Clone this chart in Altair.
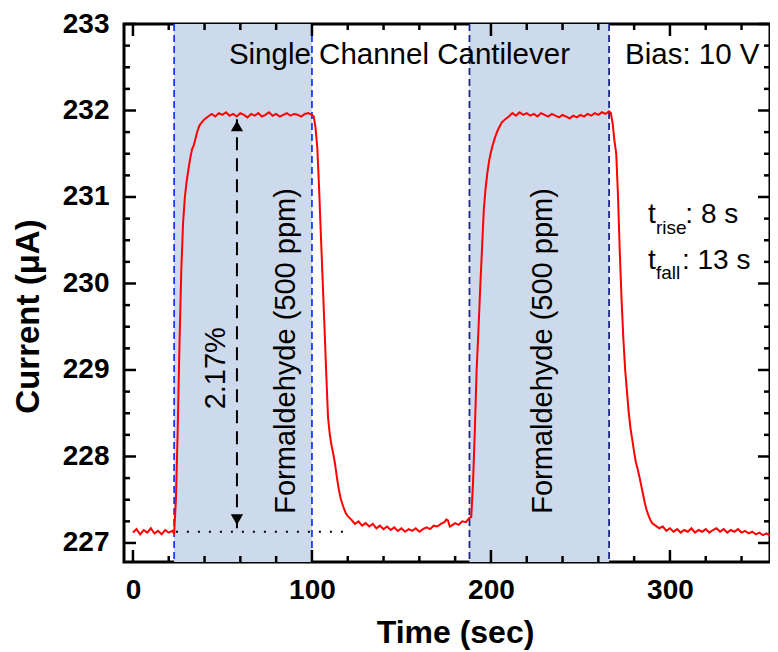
import altair as alt
import pandas as pd

# ---------------- data ----------------
time_s = [0, 2, 4, 6, 8, 10, 12, 14, 16, 18, 20, 22, 23,
          24, 25, 26, 27, 28, 29, 30, 31, 32, 33, 34, 35, 36, 37, 38, 40, 42,
          44, 46, 48, 50, 52, 54, 56, 58, 60, 62, 64, 66, 68, 70, 72, 74, 76, 78, 80,
          82, 84, 86, 88, 90, 92, 94, 96, 98, 100, 101,
          102, 103, 104, 105, 106, 107, 108, 109, 110, 111, 112, 113, 114, 115, 116,
          117, 118, 119, 120,
          122, 124, 126, 128, 130, 132, 134, 136, 138, 140, 142, 144, 146, 148, 150,
          152, 154, 156, 158, 160, 162, 164, 166, 168, 170, 172, 174, 175, 176, 177,
          178, 180, 182, 184, 186, 188, 189,
          190, 191, 192, 193, 194, 195, 196, 197, 198, 199, 200, 201, 202, 203, 204,
          205, 206, 208, 210,
          212, 214, 216, 218, 220, 222, 224, 226, 228, 230, 232, 234, 236, 238, 240,
          242, 244, 246, 248, 250, 252, 254, 256, 258, 260, 262, 264, 266, 267,
          268, 269, 270, 271, 272, 273, 274, 275, 276, 277, 278, 279, 280, 281, 282,
          283, 284, 285, 286, 287, 288, 289, 290, 292, 294, 296, 298,
          300, 302, 304, 306, 308, 310, 312, 314, 316, 318, 320, 322, 324, 326, 328,
          330, 332, 334, 336, 338, 340, 342, 344, 346, 348, 350, 352, 354, 356]

current_uA = [227.12, 227.16, 227.10, 227.15, 227.12, 227.17, 227.11, 227.14, 227.10, 227.15, 227.12, 227.14, 227.11,
              227.50, 228.30, 229.30, 230.15, 230.70, 231.00, 231.18, 231.32, 231.45, 231.55, 231.60, 231.68, 231.76, 231.82, 231.85, 231.90, 231.93,
              231.96, 231.93, 231.97, 231.95, 231.98, 231.94, 231.96, 231.93, 231.97, 231.95, 231.92, 231.96, 231.94, 231.97, 231.93, 231.95, 231.98, 231.94, 231.96,
              231.93, 231.95, 231.97, 231.94, 231.96, 231.95, 231.93, 231.96, 231.97, 231.95, 231.93,
              231.80, 231.57, 231.10, 230.55, 230.03, 229.50, 228.95, 228.45, 228.25, 228.12, 228.02, 227.90, 227.75, 227.62, 227.52,
              227.45, 227.39, 227.34, 227.31,
              227.27, 227.22, 227.25, 227.20, 227.23, 227.19, 227.22, 227.17, 227.20, 227.16, 227.19, 227.15, 227.18, 227.14, 227.17,
              227.13, 227.16, 227.14, 227.17, 227.13, 227.16, 227.18, 227.16, 227.20, 227.19, 227.22, 227.24, 227.27, 227.26, 227.19,
              227.20, 227.23, 227.21, 227.25, 227.24, 227.29, 227.30,
              227.70, 228.30, 229.00, 229.45, 229.95, 230.40, 230.85, 231.10, 231.28, 231.42, 231.52, 231.60, 231.67, 231.73, 231.78,
              231.82, 231.86, 231.90, 231.93,
              231.97, 231.94, 231.98, 231.95, 231.97, 231.94, 231.96, 231.93, 231.97, 231.95, 231.93, 231.96, 231.94, 231.92, 231.95,
              231.93, 231.91, 231.94, 231.92, 231.95, 231.93, 231.96, 231.94, 231.97, 231.95, 231.98, 231.96, 231.99, 231.97,
              231.85, 231.65, 231.50, 231.00, 230.35, 229.80, 229.35, 229.00, 228.75, 228.50, 228.32, 228.19, 228.05, 227.93, 227.85,
              227.76, 227.66, 227.56, 227.46, 227.38, 227.32, 227.27, 227.23, 227.20, 227.17, 227.19, 227.14,
              227.17, 227.13, 227.16, 227.12, 227.15, 227.13, 227.17, 227.12, 227.15, 227.13, 227.16, 227.12, 227.15, 227.17, 227.13,
              227.16, 227.12, 227.15, 227.13, 227.16, 227.12, 227.14, 227.11, 227.13, 227.10, 227.12, 227.09, 227.11, 227.08]

gas_on = [23, 188]
gas_off = [100, 266]
marker_times = [23, 100, 188, 266]
marker_colors = ["#1a3cff", "#1a3cff", "#1c2a86", "#1c2a86"]

x_major = [0, 100, 200, 300]
x_minor = [20, 40, 60, 80, 120, 140, 160, 180, 220, 240, 260, 280, 320, 340]
y_major = [227, 228, 229, 230, 231, 232, 233]
y_minor = [227.25, 227.5, 227.75, 228.25, 228.5, 228.75, 229.25, 229.5, 229.75,
           230.25, 230.5, 230.75, 231.25, 231.5, 231.75, 232.25, 232.5, 232.75]

baseline_level = 227.13
baseline_span = [24, 119]
arrow_time = 58.1
arrow_span = [227.17, 231.9]
arrow_heads_y = [231.82, 227.27]
arrow_heads_shape = ["triangle-up", "triangle-down"]

gas_label = ["Formaldehyde (500 ppm)", "Formaldehyde (500 ppm)"]
gas_label_x = [85.5, 229.0]
gas_label_y = [229.22, 229.22]

top_text = ["Single Channel Cantilever", "Bias: 10 V"]
top_text_x = [53.6, 274.9]
top_text_y = [232.54, 232.54]

t_main = ["t", ": 8 s", "t", ": 13 s"]
t_main_x = [287.7, 308.6, 287.7, 306.7]
t_main_y = [230.70, 230.70, 230.17, 230.17]
t_sub = ["rise", "fall"]
t_sub_x = [292.2, 292.2]
t_sub_y = [230.57, 230.05]

pct_text = ["2.17%"]
pct_x = [46.6]
pct_y = [229.02]

# ---------------- layout ----------------
W, H = 646, 538
XDOM = [-5, 355.9]
YDOM = [226.78, 233]
FONT = "Liberation Sans"
MAJ, MIN = 12, 6

xs = alt.Scale(domain=XDOM, nice=False, zero=False)
ys = alt.Scale(domain=YDOM, nice=False, zero=False)

curve_df = pd.DataFrame({"x": time_s, "y": current_uA})

X = alt.X("x:Q", scale=xs,
          axis=alt.Axis(values=x_major, title="Time (sec)", titleX=331, titleY=80,
                        titleBaseline="alphabetic", labelPadding=14, format="d"))
Y = alt.Y("y:Q", scale=ys,
          axis=alt.Axis(values=y_major, title="Current (μA)", titleX=-96, titleY=292,
                        titleFontSize=33, titleBaseline="middle", labelPadding=15, format="d"))

shade = alt.Chart(pd.DataFrame({"x": gas_on, "x2": gas_off})).mark_rect(color="#ccdaec").encode(
    x=alt.X("x:Q", scale=xs), x2="x2:Q", y=alt.value(0), y2=alt.value(H))

markers = alt.Chart(pd.DataFrame({"x": marker_times, "c": marker_colors})).mark_rule(
    strokeDash=[7, 4], strokeWidth=1.8).encode(
    x=alt.X("x:Q", scale=xs), y=alt.value(0), y2=alt.value(H),
    color=alt.Color("c:N", scale=None))

dotted = alt.Chart(pd.DataFrame({"x": [baseline_span[0]], "x2": [baseline_span[1]], "y": [baseline_level]})).mark_rule(
    strokeDash=[2, 9], strokeWidth=2.2, color="black").encode(
    x=alt.X("x:Q", scale=xs), x2="x2:Q", y=alt.Y("y:Q", scale=ys))

arrow = alt.Chart(pd.DataFrame({"x": [arrow_time], "y": [arrow_span[0]], "y2": [arrow_span[1]]})).mark_rule(
    strokeDash=[13, 8], strokeWidth=2, color="black").encode(
    x=alt.X("x:Q", scale=xs), y=alt.Y("y:Q", scale=ys), y2="y2:Q")

heads = alt.Chart(pd.DataFrame({"x": [arrow_time, arrow_time], "y": arrow_heads_y, "s": arrow_heads_shape})).mark_point(
    filled=True, color="black", size=150, opacity=1).encode(
    x=alt.X("x:Q", scale=xs), y=alt.Y("y:Q", scale=ys), shape=alt.Shape("s:N", scale=None))

curve = alt.Chart(curve_df).mark_line(color="#ff0000", strokeWidth=2).encode(x=X, y=Y)


def rules_x(vals, y0, y1):
    return alt.Chart(pd.DataFrame({"x": vals})).mark_rule(color="black", strokeWidth=2.5).encode(
        x=alt.X("x:Q", scale=xs), y=alt.value(y0), y2=alt.value(y1))


def rules_y(vals, x0, x1):
    return alt.Chart(pd.DataFrame({"y": vals})).mark_rule(color="black", strokeWidth=2.5).encode(
        y=alt.Y("y:Q", scale=ys), x=alt.value(x0), x2=alt.value(x1))


ticks = [
    rules_x(x_major, H, H - MAJ), rules_x(x_minor, H, H - MIN),
    rules_x(x_major, 0, MAJ), rules_x(x_minor, 0, MIN),
    rules_y(y_major, 0, MAJ), rules_y(y_minor, 0, MIN),
    rules_y(y_major, W, W - MAJ), rules_y(y_minor, W, W - MIN),
]

gas_txt = alt.Chart(pd.DataFrame({"x": gas_label_x, "y": gas_label_y, "t": gas_label})).mark_text(
    angle=270, fontSize=29, font=FONT, align="center", baseline="middle", color="black").encode(
    x=alt.X("x:Q", scale=xs), y=alt.Y("y:Q", scale=ys), text="t:N")

pct_txt = alt.Chart(pd.DataFrame({"x": pct_x, "y": pct_y, "t": pct_text})).mark_text(
    angle=270, fontSize=29, font=FONT, align="center", baseline="middle", color="black").encode(
    x=alt.X("x:Q", scale=xs), y=alt.Y("y:Q", scale=ys), text="t:N")

top_txt = alt.Chart(pd.DataFrame({"x": top_text_x, "y": top_text_y, "t": top_text})).mark_text(
    fontSize=29.5, font=FONT, align="left", baseline="alphabetic", color="black").encode(
    x=alt.X("x:Q", scale=xs), y=alt.Y("y:Q", scale=ys), text="t:N")

tmain_txt = alt.Chart(pd.DataFrame({"x": t_main_x, "y": t_main_y, "t": t_main})).mark_text(
    fontSize=28, font=FONT, align="left", baseline="alphabetic", color="black").encode(
    x=alt.X("x:Q", scale=xs), y=alt.Y("y:Q", scale=ys), text="t:N")

tsub_txt = alt.Chart(pd.DataFrame({"x": t_sub_x, "y": t_sub_y, "t": t_sub})).mark_text(
    fontSize=19, font=FONT, align="left", baseline="alphabetic", color="black").encode(
    x=alt.X("x:Q", scale=xs), y=alt.Y("y:Q", scale=ys), text="t:N")

chart = alt.layer(
    shade, markers, dotted, arrow, heads, curve, *ticks,
    gas_txt, pct_txt, top_txt, tmain_txt, tsub_txt
).properties(
    width=W, height=H,
    autosize=alt.AutoSizeParams(type="none"),
    padding={"left": 116, "top": 16, "right": 0, "bottom": 90},
).configure_view(
    stroke="black", strokeWidth=3
).configure_axis(
    grid=False, ticks=False, tickSize=0, domain=False,
    labelFont=FONT, labelFontSize=28, labelFontWeight="bold", labelColor="black",
    titleFont=FONT, titleFontSize=32, titleFontWeight="bold", titleColor="black",
)

chart.save("out.html", embed_options={"renderer": "svg", "actions": False})
